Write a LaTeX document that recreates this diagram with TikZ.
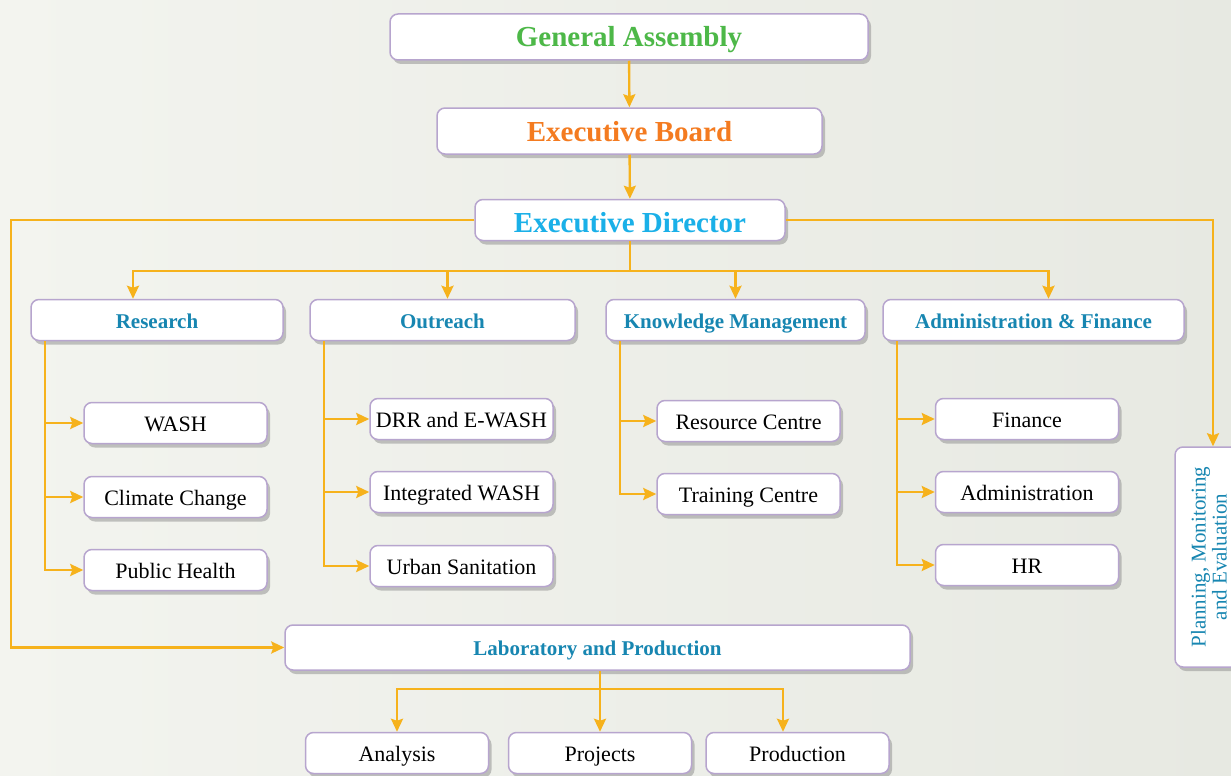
\documentclass[tikz,border=0pt]{standalone}
\usepackage{fontspec}
\usepackage{graphicx}
\setmainfont{Liberation Serif}
\usetikzlibrary{arrows.meta,shadows}

\definecolor{bgl}{HTML}{F3F4EF}
\definecolor{bgr}{HTML}{E7E9E2}
\definecolor{frame}{HTML}{B7A5CE}
\definecolor{link}{HTML}{F6B21C}
\definecolor{gagreen}{HTML}{4DB848}
\definecolor{eborange}{HTML}{F47B20}
\definecolor{edcyan}{HTML}{1AB0E8}
\definecolor{unit}{HTML}{1786B1}

\begin{document}
\begin{tikzpicture}[x=1pt,y=-1pt,
    box/.style={draw=frame, line width=1.5pt, fill=white, rounded corners=8pt,
      inner sep=0pt, drop shadow={shadow xshift=3pt, shadow yshift=-4pt, fill=black!45}},
    top/.style={box, minimum height=46pt, font=\fontsize{29}{31}\selectfont\bfseries,
      text height=23pt, text depth=3pt},
    dept/.style={box, minimum height=41pt, font=\fontsize{21}{23}\selectfont\bfseries,
      text=unit, text height=17pt, text depth=1pt},
    sub/.style={box, minimum width=183pt, minimum height=41pt, font=\fontsize{22}{24}\selectfont,
      text height=18pt, text depth=2pt},
    line/.style={draw=link, line width=2.4pt},
    arr/.style={line, -{Stealth[length=13pt,width=12pt,inset=2pt]}}]
  \useasboundingbox (0,0) rectangle (1231,776);
  \clip (0,0) rectangle (1231,776);
  \shade[left color=bgl, right color=bgr] (0,0) rectangle (1231,776);

  % governing bodies
  \node[top, minimum width=478pt, text=gagreen] (ga) at (629,37) {General Assembly};
  \node[top, minimum width=385pt, text=eborange] (eb) at (629.5,131) {Executive Board};
  \node[top, minimum width=310pt, minimum height=41pt, text=edcyan,
    text height=25pt, text depth=1pt] (ed) at (630,220) {Executive Director};

  % departments
  \node[dept, minimum width=252pt] (res) at (157,320) {Research};
  \node[dept, minimum width=265pt] (out) at (442.5,320) {Outreach};
  \node[dept, minimum width=259pt] (km) at (735.5,320) {Knowledge Management};
  \node[dept, minimum width=301pt] (af) at (1033.5,320) {Administration \& Finance};
  \node[dept, minimum width=625pt, minimum height=45pt] (lab) at (597.5,647.5) {Laboratory and Production};
  \node[box, minimum width=76pt, minimum height=220pt, text=unit,
    font=\fontsize{21}{21}\selectfont] (pme) at (1213,557)
    {\hspace*{-2pt}\rotatebox{90}{\begin{tabular}{@{}c@{}}Planning, Monitoring\\and Evaluation\end{tabular}}};

  % units
  \foreach \n/\x/\y/\t in {wash/175.5/423/WASH, clim/175.5/497/Climate Change,
      ph/175.5/570/Public Health, drr/461.5/419/DRR and E-WASH,
      iw/461.5/492/Integrated WASH, us/461.5/566/Urban Sanitation,
      rc/748.5/421/Resource Centre, tc/748.5/494/Training Centre,
      fin/1027/419/Finance, adm/1027/492/Administration, hr/1027/565/HR,
      ana/397/753/Analysis, proj/600/753/Projects, prod/797.5/753/Production}
    \node[sub] (\n) at (\x,\y) {\t};

  % reporting lines
  \draw[arr] (ga) -- (eb);
  \draw[arr] (eb) -- (ed);
  \draw[line] (ed.south) -- ++(0,30) coordinate (hub);
  \draw[arr] (hub) -| ([xshift=-24pt]res.north);
  \draw[arr] (hub) -| ([xshift=5pt]out.north);
  \draw[arr] (hub) -| (km.north);
  \draw[arr] (hub) -| ([xshift=15pt]af.north);
  \coordinate (lft) at (11,647.5);
  \draw[arr] (ed.west) -| (lft) -- (lab.west);
  \draw[arr] (ed.east) -| (pme.north);

  \foreach \p/\c in {res/wash, res/clim, res/ph, out/drr, out/iw, out/us,
      km/rc, km/tc, af/fin, af/adm, af/hr}
    \draw[arr] ([xshift=15pt]\p.south west) |- (\c.west);

  \draw[line] (lab.south -| proj.north) -- ++(0,18) coordinate (lhub);
  \draw[arr] (lhub) -| (ana.north);
  \draw[arr] (lhub) -- (proj.north);
  \draw[arr] (lhub) -| ([xshift=-14.5pt]prod.north);
\end{tikzpicture}
\end{document}
